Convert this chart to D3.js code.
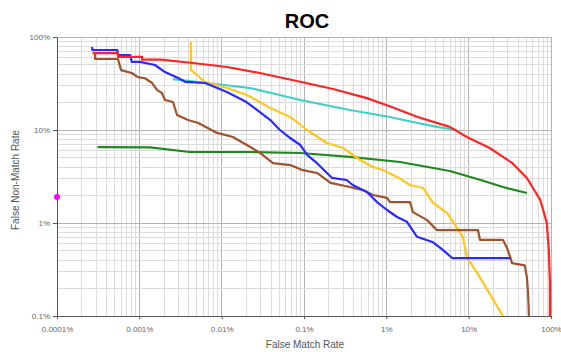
<!DOCTYPE html>
<html>
<head>
<meta charset="utf-8">
<script src="https://cdn.jsdelivr.net/npm/d3@7"></script>
<style>
  body { margin: 0; background: #fff; }
  svg { display: block; font-family: Arial, "Liberation Sans", sans-serif; }
</style>
</head>
<body>
<svg width="561" height="352"></svg>
<script>
// axis ticks (percent)
const xMajor = [0.0001, 0.001, 0.01, 0.1, 1, 10, 100];
const xLabels = ['0.0001%', '0.001%', '0.01%', '0.1%', '1%', '10%', '100%'];
const yMajor = [0.1, 1, 10, 100];
const yLabels = ['0.1%', '1%', '10%', '100%'];

// series: [false match rate %, false non-match rate %]
const redSeries = [[0.00027,67],[0.00055,67],[0.00055,61],[0.00108,61],[0.00108,57],[0.0018,57],[0.0045,52.5],[0.0116,47.6],[0.029,41],[0.09,33],[0.225,27.6],[0.58,22],[1.1,18],[2.4,13.8],[5.9,10.8],[9.5,8.4],[18,6.4],[34,4.4],[51,3.05],[74,1.77],[89,1.0],[94,0.51],[97,0.23],[97,0.1]];
const cyanSeries = [[0.00256,35.3],[0.022,28.3],[0.09,21],[0.36,16.4],[1.1,13.8],[2.4,11.9],[4.1,10.8],[7.2,10]];
const blueSeries = [[0.000266,78],[0.00027,72.5],[0.00054,72.5],[0.00055,64],[0.00077,64],[0.00081,54],[0.00102,54],[0.00155,50],[0.00205,42],[0.003,36],[0.0036,33],[0.0063,32],[0.0116,25.6],[0.02,20],[0.039,12.8],[0.051,10],[0.068,8.2],[0.09,6.9],[0.109,5.4],[0.144,4.4],[0.19,3.45],[0.22,3.05],[0.33,2.9],[0.39,2.56],[0.58,2.15],[0.77,1.68],[1.02,1.38],[1.35,1.16],[1.78,1.03],[2.36,0.71],[3.7,0.62],[4.9,0.51],[6.3,0.42],[32,0.42]];
const yellowSeries = [[0.00424,88.4],[0.00424,44.2],[0.005,39],[0.0063,32.8],[0.0116,28.3],[0.0203,23.8],[0.029,20],[0.039,17.2],[0.068,13.8],[0.109,10],[0.19,7.25],[0.3,6.4],[0.48,4.76],[0.69,4.0],[0.91,3.72],[1.35,3.13],[1.94,2.56],[2.8,2.38],[3.7,1.64],[5.5,1.28],[8.5,0.71],[9.5,0.43],[13.7,0.26],[26,0.1]];
const greenSeries = [[0.00031,6.56],[0.00135,6.5],[0.0041,5.8],[0.022,5.8],[0.09,5.66],[0.36,5.13],[1.47,4.53],[5.9,3.62],[14,2.9],[26,2.44],[51,2.1]];
const brownSeries = [[0.00029,69],[0.00029,58],[0.00055,58],[0.0006,44],[0.00081,41],[0.00096,37],[0.00117,36],[0.00143,32],[0.00164,27],[0.00188,25],[0.00205,21],[0.00256,20],[0.00287,14.5],[0.0039,12.8],[0.0052,11.9],[0.0088,9.3],[0.0137,8.4],[0.022,6.6],[0.029,5.7],[0.042,4.4],[0.068,4.2],[0.097,3.7],[0.144,3.45],[0.21,2.7],[0.36,2.44],[0.52,2.26],[0.69,2.0],[1.02,1.86],[1.11,1.68],[1.94,1.68],[2.1,1.31],[3.1,1.08],[4.1,0.84],[13,0.84],[13.7,0.66],[26,0.66],[29,0.55],[32,0.43],[33.6,0.37],[48,0.35],[51,0.26],[52.6,0.18],[54,0.1]];
const markerPoint = [[0.0001, 1.9]];

const svg = d3.select('svg');

const x = d3.scaleLog().domain([0.0001, 100]).range([57, 551]);
const y = d3.scaleLog().domain([0.1, 100]).range([316, 37]);

// grid
const grid = svg.append('g');
grid.selectAll('line.xg')
  .data(x.ticks())
  .enter().append('line')
  .attr('x1', d => x(d)).attr('x2', d => x(d))
  .attr('y1', y(0.1)).attr('y2', y(100))
  .attr('stroke', d => xMajor.includes(d) ? '#b4b4b4' : '#dcdcdc')
  .attr('stroke-width', 1)
  .attr('shape-rendering', 'crispEdges');
grid.selectAll('line.yg')
  .data(y.ticks())
  .enter().append('line')
  .attr('y1', d => y(d)).attr('y2', d => y(d))
  .attr('x1', x(0.0001)).attr('x2', x(100))
  .attr('stroke', d => yMajor.includes(d) ? '#b4b4b4' : '#dcdcdc')
  .attr('stroke-width', 1)
  .attr('shape-rendering', 'crispEdges');

// axes
const xAxis = svg.append('g')
  .attr('transform', `translate(0,${y(0.1)})`)
  .call(d3.axisBottom(x).tickValues(xMajor).tickFormat((d, i) => xLabels[i]).tickSize(3).tickSizeOuter(0));
const yAxis = svg.append('g')
  .attr('transform', `translate(${x(0.0001)},0)`)
  .call(d3.axisLeft(y).tickValues(yMajor).tickFormat((d, i) => yLabels[i]).tickSize(4).tickSizeOuter(0));
[xAxis, yAxis].forEach(a => {
  a.select('.domain').attr('stroke', '#555');
  a.selectAll('.tick line').attr('stroke', '#555');
  a.selectAll('text').attr('fill', '#666').style('font-size', '8px').style('font-family', 'Arial, "Liberation Sans", sans-serif');
});
xAxis.selectAll('text').attr('dy', '1.2em');

// lines
const line = d3.line().x(d => x(d[0])).y(d => y(d[1]));
const series = [
  [greenSeries, '#1e8a1e'],
  [cyanSeries, '#3fd0cc'],
  [yellowSeries, '#ffc61e'],
  [brownSeries, '#a0522d'],
  [blueSeries, '#2a2aff'],
  [redSeries, '#ff2424']
];
series.forEach(([data, color]) => {
  svg.append('path')
    .datum(data)
    .attr('d', line)
    .attr('fill', 'none')
    .attr('stroke', color)
    .attr('stroke-width', 2.2)
    .attr('stroke-linejoin', 'round');
});

svg.selectAll('circle.marker')
  .data(markerPoint)
  .enter().append('circle')
  .attr('cx', d => x(d[0]))
  .attr('cy', d => y(d[1]))
  .attr('r', 3)
  .attr('fill', '#ff00ff');

// titles
svg.append('text')
  .attr('x', 307).attr('y', 28)
  .attr('text-anchor', 'middle')
  .style('font-size', '20px').style('font-weight', 'bold')
  .attr('fill', '#000')
  .text('ROC');
svg.append('text')
  .attr('x', 305).attr('y', 348)
  .attr('text-anchor', 'middle')
  .style('font-size', '10px')
  .attr('fill', '#555')
  .text('False Match Rate');
svg.append('text')
  .attr('transform', 'translate(19,180) rotate(-90)')
  .attr('text-anchor', 'middle')
  .style('font-size', '10px')
  .attr('fill', '#555')
  .text('False Non-Match Rate');
</script>
</body>
</html>
